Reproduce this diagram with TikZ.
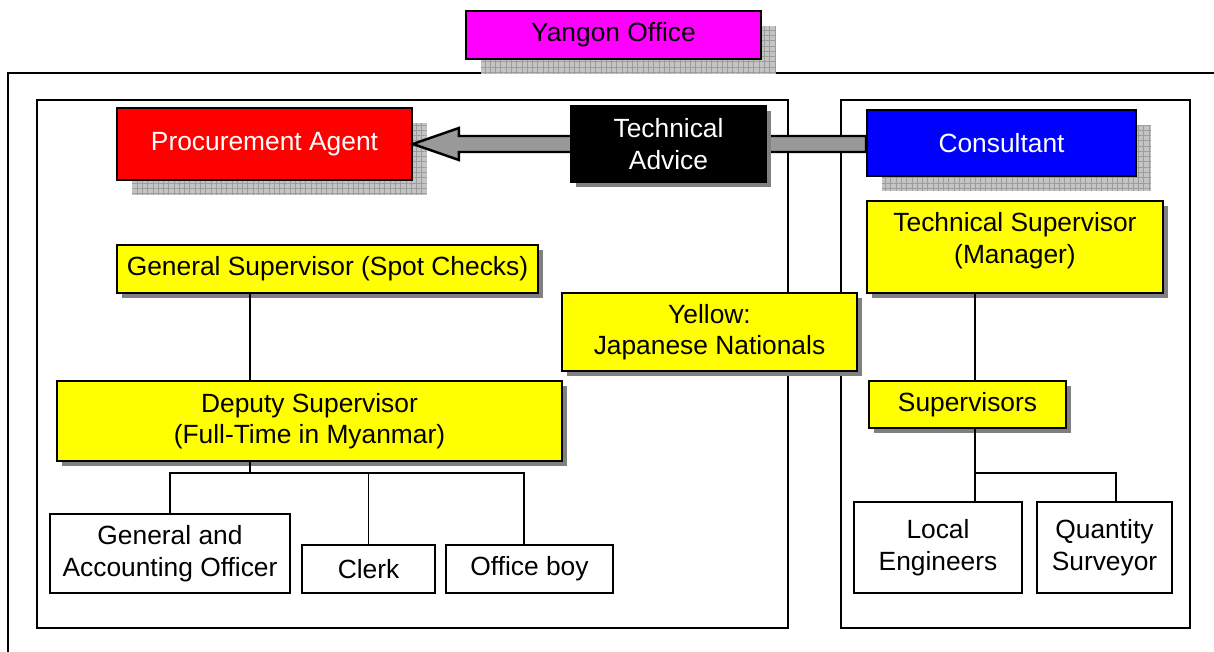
\documentclass[tikz,border=0pt]{standalone}
\usepackage{fontspec}
\setmainfont{Liberation Sans}
\usetikzlibrary{calc,patterns.meta,shadows,positioning}
\definecolor{YOMagenta}{HTML}{FF00FF}
\definecolor{YORed}{HTML}{FF0000}
\definecolor{YOBlue}{HTML}{0000FF}
\definecolor{YOYellow}{HTML}{FFFF00}
\definecolor{YOShade}{HTML}{C4C4C4}
\definecolor{YOGrid}{HTML}{9C9C9C}
\definecolor{YODark}{HTML}{808080}
\definecolor{YOArrowFill}{HTML}{999999}
\tikzset{
  yoBox/.style={
    rectangle, draw=black, line width=1pt, fill=#1,
    align=center, text=black, inner sep=2pt,
    font=\fontsize{15}{18}\selectfont
  },
  yoBox/.default=YOYellow,
  yoCheck/.style={
    general shadow={fill=YOShade, shadow xshift=0.3cm, shadow yshift=-0.3cm},
    general shadow={pattern={Hatch[angle=0, distance=3pt, line width=0.35pt]},
      pattern color=YOGrid, shadow xshift=0.3cm, shadow yshift=-0.3cm}
  },
  yoSolid/.style={
    general shadow={fill=YODark, shadow xshift=0.1cm, shadow yshift=-0.1cm}
  },
  yoFrame/.style={draw=black, line width=1pt},
  yoOuter/.style={draw=black, line width=1.4pt},
  yoLink/.style={draw=black, line width=0.9pt},
  yoArrow/.style={draw=black, line width=1.4pt, fill=YOArrowFill}
}
\begin{document}
\begin{tikzpicture}[x=0.02cm, y=-0.02cm]
  \useasboundingbox (0,0) rectangle (1214,652);

  % frames
  \draw[yoOuter] (8,652) -- (8,73) -- (1214,73);
  \draw[yoFrame] (37,100) rectangle (788,628);
  \draw[yoFrame] (841,100) rectangle (1190,628);

  \node[yoBox=YOMagenta, yoCheck, minimum width=5.9cm, minimum height=0.96cm] (yangon) at (613.5,35) {Yangon Office};

  % procurement side
  \node[yoBox=YORed, yoCheck, text=white, minimum width=5.9cm, minimum height=1.44cm] (proc) at (264.5,144) {Procurement Agent};
  \node[yoBox=YOBlue, yoCheck, text=white, minimum width=5.38cm, minimum height=1.32cm] (cons) at (1001.5,143) {Consultant};

  \coordinate (tip) at (proc.east);
  \coordinate (stop) at ($(tip)+(0,-8)$);
  \coordinate (sbot) at ($(tip)+(0,8)$);
  \draw[yoArrow] (tip) -- ++(46,-16) -- ++(0,8) -- (stop -| cons.west)
    -- (sbot -| cons.west) -- ($(sbot)+(46,0)$) -- ++(0,8) -- cycle;

  \node[yoBox=black, yoSolid, text=white, minimum width=3.9cm, minimum height=1.52cm] (tech) at (668.5,144) {Technical\\Advice};

  \node[yoBox, yoSolid, minimum width=8.42cm, minimum height=0.96cm] (gsup) at (327.5,269) {General Supervisor (Spot Checks)};
  \node[yoBox, yoSolid, minimum width=10.1cm, minimum height=1.6cm] (dsup) at (309.5,421) {Deputy Supervisor\\(Full-Time in Myanmar)};
  \node[yoBox=white, minimum width=4.8cm, minimum height=1.58cm] (gao) at (170,553.5) {General and\\Accounting Officer};
  \node[yoBox=white, minimum width=2.66cm, minimum height=0.96cm] (clerk) at (368.5,569) {Clerk};
  \node[yoBox=white, minimum width=3.34cm, minimum height=0.96cm] (oboy) at (529.5,569) {Office boy};

  \node[yoBox, yoSolid, minimum width=5.9cm, minimum height=1.56cm] (legend) at (709.5,332) {Yellow:\\Japanese Nationals};

  % consultant side
  \node[yoBox, yoSolid, minimum width=5.92cm, minimum height=1.84cm, text depth=0.35cm] (tsup) at (1015,247) {Technical Supervisor\\(Manager)};
  \node[yoBox, yoSolid, minimum width=3.94cm, minimum height=0.94cm] (sups) at (967.5,404.5) {Supervisors};
  \node[yoBox=white, minimum width=3.36cm, minimum height=1.82cm] (leng) at (938,547.5) {Local\\Engineers};
  \node[yoBox=white, minimum width=2.7cm, minimum height=1.82cm] (qsur) at (1104.5,547.5) {Quantity\\Surveyor};

  % links
  \coordinate (lspine) at (250,473);
  \coordinate (otap) at (524,473);
  \coordinate (rspine) at (975,473);
  \coordinate (qtap) at (1116,473);
  \draw[yoLink] (gsup.south -| lspine) -- (dsup.north -| lspine);
  \draw[yoLink] (dsup.south -| lspine) -- (lspine);
  \draw[yoLink] (gao.north) -- (gao.north |- lspine) -- (otap) -- (otap |- oboy.north);
  \draw[yoLink] (clerk.north) -- (clerk.north |- lspine);

  \draw[yoLink] (tsup.south -| rspine) -- (sups.north -| rspine);
  \draw[yoLink] (sups.south -| rspine) -- (leng.north -| rspine);
  \draw[yoLink] (rspine) -- (qtap) -- (qtap |- qsur.north);
\end{tikzpicture}
\end{document}
